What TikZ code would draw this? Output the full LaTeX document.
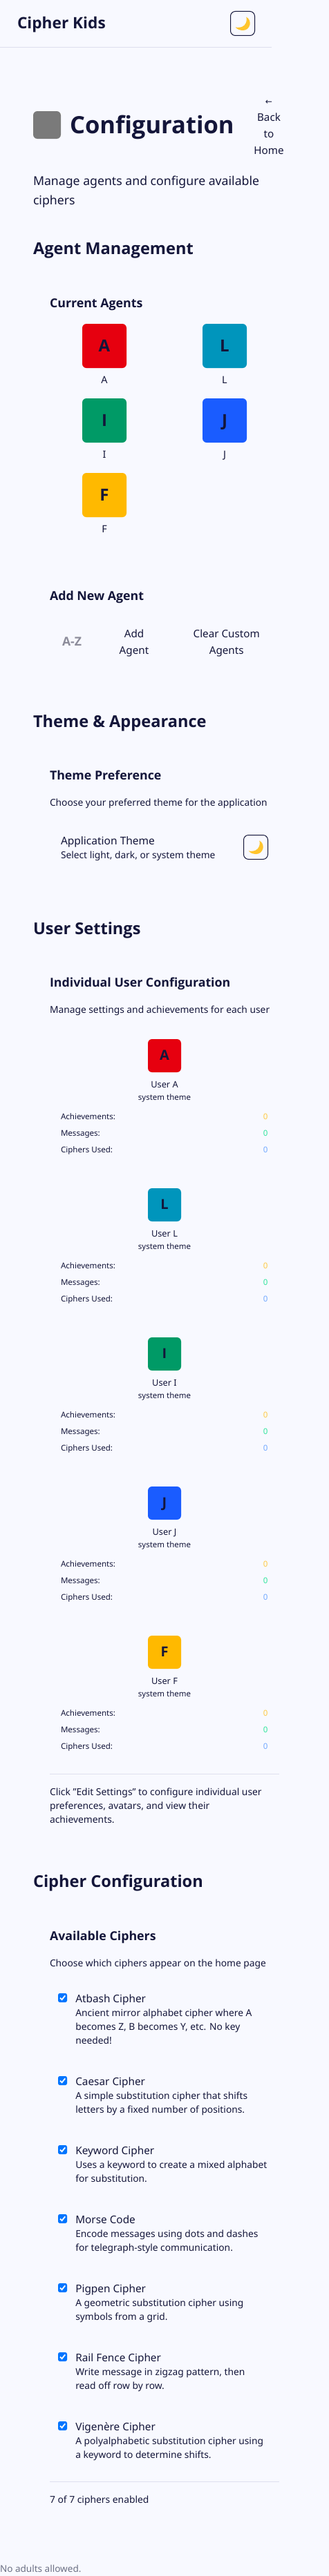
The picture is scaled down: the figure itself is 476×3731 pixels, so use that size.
\documentclass[tikz,border=0pt]{standalone}
\usepackage{fontspec}
\setmainfont{Noto Sans}
\newfontfamily\osans{Open Sans}
\newfontfamily\symf{DejaVu Sans}
\newcommand{\bff}{\osans\bfseries}
\definecolor{pagebg}{HTML}{F8F9FF}
\definecolor{ink}{HTML}{14163A}
\definecolor{rulec}{HTML}{DEDFEE}
\definecolor{moonc}{HTML}{FFC52E}
\definecolor{graybox}{HTML}{7A7A7A}
\definecolor{agA}{HTML}{E6000F}
\definecolor{agL}{HTML}{0095BC}
\definecolor{agI}{HTML}{009A66}
\definecolor{agJ}{HTML}{1A5CFF}
\definecolor{agF}{HTML}{FFB900}
\definecolor{zeroA}{HTML}{FFC940}
\definecolor{zeroB}{HTML}{2EE59D}
\definecolor{zeroC}{HTML}{70A8FF}
\definecolor{checkc}{HTML}{0075FF}
\definecolor{muted}{HTML}{6D7185}
\definecolor{azc}{HTML}{8C8C9A}
\newcommand{\fsz}[1]{\fontsize{#1pt}{#1pt}\selectfont}
\newsavebox\mb
\newcommand{\calib}[4]{\sbox\mb{\fontsize{100pt}{100pt}\selectfont #2 #3}\pgfmathsetmacro#1{#4/\the\wd\mb*100}}
\tikzset{
  x=1pt,y=-1pt,
  lbl/.style={anchor=base west,inner sep=0pt,outer sep=0pt,text=ink},
  ctr/.style={lbl,anchor=base},
  rgt/.style={lbl,anchor=base east},
  hone/.style={lbl,font=\fsz{\szOne}\bff},
  brand/.style={lbl,font=\fsz{\szBrand}\bff},
  htwo/.style={lbl,font=\fsz{\szTwo}\bff},
  hthree/.style={lbl,font=\fsz{\szThree}\bff},
  bodyl/.style={lbl,font=\fsz{\szBody}},
  btn/.style={ctr,font=\fsz{\szBtn}},
  intro/.style={lbl,font=\fsz{\szIntro}},
  note/.style={lbl,font=\fsz{\szNote}},
  small/.style={lbl,font=\fsz{\szDesc}},
  stat/.style={lbl,font=\fsz{\szStat}},
  statv/.style={rgt,font=\fsz{\szStat}},
  tile/.style={rectangle,rounded corners=6pt,inner sep=0pt,outer sep=0pt,minimum size=64pt},
  utile/.style={tile,minimum size=48pt},
  rulel/.style={draw=rulec,line width=0.9pt},
}
\newcommand{\themebtn}[3]{%
  \node[draw=ink,line width=1pt,rounded corners=7pt,minimum size=35pt,inner sep=0pt,outer sep=0pt,fill=pagebg] (#1) at (#2+18,#3+18) {};
  \begin{scope}[shift={(#2,#3)}]
    \fill[moonc] (23.2,8.6) .. controls (27.5,10.5) and (29.3,15.5) .. (28.5,19.5)
      .. controls (27.5,25) and (23,28.2) .. (18,28)
      .. controls (14,27.8) and (10,26.5) .. (7.6,23.3)
      .. controls (11,24.3) and (17,24.2) .. (20.5,20.6)
      .. controls (23.6,17.3) and (24.6,12.5) .. cycle;
  \end{scope}}
\newcommand{\agent}[5]{%
  \node[tile,fill=#4] (agent#1) at (#2+32,#3+32) {};
  \node[ctr,font=\fsz{24}\bff] (agentl#1) at (#2+32,#3+40) {#5};
  \node[ctr,font=\fsz{14.4}] (agentn#1) at (#2+32,#3+86) {#5};}
\newcommand{\userblk}[4]{%
  \node[utile,fill=#3] (user#1) at (238,#2+24) {};
  \node[ctr,font=\fsz{20}\bff] (userl#1) at (238,#2+30) {#4};
  \node[ctr,font=\fsz{\szUser}] (usern#1) at (238,#2+70) {User #4};
  \node[ctr,font=\fsz{\szSys}] (usert#1) at (238,#2+88) {system theme};
  \node[stat] (ua#1) at (88,#2+116) {Achievements:};
  \node[stat] (um#1) at (88,#2+140) {Messages:};
  \node[stat] (uc#1) at (88,#2+164) {Ciphers Used:};
  \node[statv,text=zeroA] (uav#1) at (387.5,#2+116) {0};
  \node[statv,text=zeroB] (umv#1) at (387.5,#2+140) {0};
  \node[statv,text=zeroC] (ucv#1) at (387.5,#2+164) {0};}
\newcommand{\cipherbox}[2]{%
  \node[rectangle,fill=checkc,rounded corners=2.5pt,minimum size=13pt,inner sep=0pt,outer sep=0pt] (chk#1) at (90.5,#2-6.5) {};
  \draw[white,line width=1.8pt] (87,#2-6.5) -- (89.6,#2-3.8) -- (94.2,#2-9.6);}
\newcommand{\ciphertitle}[3]{\node[lbl,font=\fsz{\szTitle}] (ct#1) at (109.3,#2) {#3};}
\newcommand{\cipherdesc}[3]{\node[small] (cd#1) at (109.3,#2) {#3};}
\begin{document}
\calib{\szBrand}{\bff}{Cipher Kids}{133.7}%
\calib{\szOne}{\bff}{Configuration}{246.7}%
\calib{\szTwo}{\bff}{Agent Management}{238}%
\calib{\szThree}{\bff}{Individual User Configuration}{266}%
\calib{\szBody}{}{Manage agents and configure available}{331.7}%
\calib{\szBtn}{}{Clear Custom}{100}%
\calib{\szIntro}{}{Choose your preferred theme for the application}{318.3}%
\calib{\szApp}{}{Application Theme}{140}%
\calib{\szAppD}{}{Select light, dark, or system theme}{227}%
\calib{\szNote}{}{Click "Edit Settings" to configure individual user}{310.3}%
\calib{\szDesc}{}{Ancient mirror alphabet cipher where A}{258.7}%
\calib{\szTitle}{}{Atbash Cipher}{105.7}%
\calib{\szUser}{}{User A}{42.7}%
\calib{\szSys}{}{system theme}{79}%
\calib{\szStat}{}{Achievements:}{82}%
\calib{\szFoot}{}{No adults allowed.}{121}%
\begin{tikzpicture}
\useasboundingbox (0,0) rectangle (476,3731);
\fill[pagebg] (0,0) rectangle (476,3731);
\node[brand] (brand) at (25,41.5) {Cipher Kids};
\themebtn{thm1}{333}{16}
\coordinate (hl) at (0,68.5); \coordinate (hr) at (393,68.5);
\draw[rulel] (hl) -- (hr);
\node[rectangle,fill=graybox,rounded corners=6pt,minimum size=40pt,inner sep=0pt] (titleicon) at (68,181) {};
\node[hone] (title) at (101,193) {Configuration};
\node[ctr,font=\fsz{12}\symf] (back0) at (389,151) {←};
\node[btn] (back1) at (389,175) {Back};
\node[btn] (back2) at (389,199) {to};
\node[btn] (back3) at (389,223) {Home};
\node[bodyl] (sub1) at (48,268.5) {Manage agents and configure available};
\node[bodyl] (sub2) at (48,296.5) {ciphers};
\node[htwo] (h1) at (48,368.5) {Agent Management};
\node[hthree] (h11) at (72,445) {Current Agents};
\agent{A}{119}{469}{agA}{A}
\agent{L}{293}{469}{agL}{L}
\agent{I}{119}{577}{agI}{I}
\agent{J}{293}{577}{agJ}{J}
\agent{F}{119}{685}{agF}{F}
\node[hthree] (h12) at (72,869) {Add New Agent};
\node[ctr,font=\fsz{17.6}\bff,text=azc] (az) at (104,935) {A-Z};
\node[btn] (add1) at (194,923) {Add};
\node[btn] (add2) at (194,947) {Agent};
\node[btn] (clr1) at (327.7,923) {Clear Custom};
\node[btn] (clr2) at (327.7,947) {Agents};
\node[htwo] (h2) at (48,1053) {Theme \& Appearance};
\node[hthree] (h21) at (72,1129) {Theme Preference};
\node[intro] (themedesc) at (72,1167) {Choose your preferred theme for the application};
\node[lbl,font=\fsz{\szApp}] (apptheme) at (88,1223) {Application Theme};
\node[lbl,font=\fsz{\szAppD}] (appdesc) at (88,1243) {Select light, dark, or system theme};
\themebtn{thm2}{352}{1209}
\node[htwo] (h3) at (48,1353) {User Settings};
\node[hthree] (h31) at (72,1429) {Individual User Configuration};
\node[intro] (userdesc) at (72,1467) {Manage settings and achievements for each user};
\userblk{A}{1505}{agA}{A}
\userblk{L}{1721}{agL}{L}
\userblk{I}{1937}{agI}{I}
\userblk{J}{2153}{agJ}{J}
\userblk{F}{2369}{agF}{F}
\coordinate (ul) at (72,2569); \coordinate (ur) at (404,2569);
\draw[rulel] (ul) -- (ur);
\node[note] (edit1) at (72,2600) {Click "Edit Settings" to configure individual user};
\node[note] (edit2) at (72,2620) {preferences, avatars, and view their};
\node[note] (edit3) at (72,2640) {achievements.};
\node[htwo] (h4) at (48,2733) {Cipher Configuration};
\node[hthree] (h41) at (72,2810) {Available Ciphers};
\node[intro] (cipherintro) at (72,2848) {Choose which ciphers appear on the home page};
\cipherbox{a}{2900}
\ciphertitle{a}{2900}{Atbash Cipher}
\cipherdesc{a1}{2920}{Ancient mirror alphabet cipher where A}
\cipherdesc{a2}{2940}{becomes Z, B becomes Y, etc. No key}
\cipherdesc{a3}{2960}{needed!}
\cipherbox{b}{3020}
\ciphertitle{b}{3020}{Caesar Cipher}
\cipherdesc{b1}{3040}{A simple substitution cipher that shifts}
\cipherdesc{b2}{3060}{letters by a fixed number of positions.}
\cipherbox{c}{3120}
\ciphertitle{c}{3120}{Keyword Cipher}
\cipherdesc{c1}{3140}{Uses a keyword to create a mixed alphabet}
\cipherdesc{c2}{3160}{for substitution.}
\cipherbox{d}{3220}
\ciphertitle{d}{3220}{Morse Code}
\cipherdesc{d1}{3240}{Encode messages using dots and dashes}
\cipherdesc{d2}{3260}{for telegraph-style communication.}
\cipherbox{e}{3320}
\ciphertitle{e}{3320}{Pigpen Cipher}
\cipherdesc{e1}{3340}{A geometric substitution cipher using}
\cipherdesc{e2}{3360}{symbols from a grid.}
\cipherbox{f}{3420}
\ciphertitle{f}{3420}{Rail Fence Cipher}
\cipherdesc{f1}{3440}{Write message in zigzag pattern, then}
\cipherdesc{f2}{3460}{read off row by row.}
\cipherbox{g}{3520}
\ciphertitle{g}{3520}{Vigenère Cipher}
\cipherdesc{g1}{3540}{A polyalphabetic substitution cipher using}
\cipherdesc{g2}{3560}{a keyword to determine shifts.}
\coordinate (cl) at (72,3594.3); \coordinate (cr) at (404,3594.3);
\draw[rulel] (cl) -- (cr);
\node[note] (count) at (72,3625) {7 of 7 ciphers enabled};
\node[lbl,font=\fsz{\szFoot},text=muted] (foot) at (0,3725) {No adults allowed.};
\end{tikzpicture}
\end{document}
